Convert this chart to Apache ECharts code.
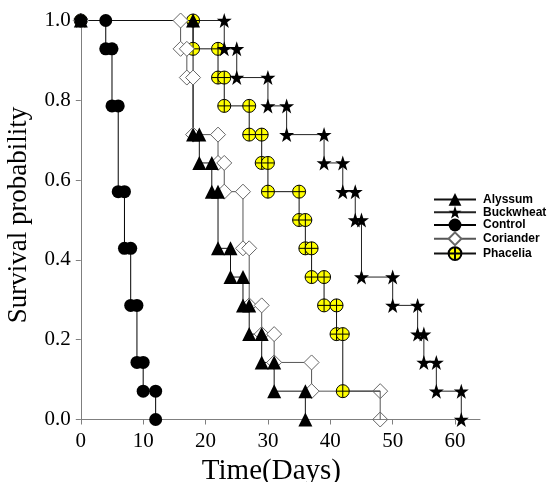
<!DOCTYPE html>
<html>
<head>
<meta charset="utf-8">
<script src="https://cdn.jsdelivr.net/npm/echarts@6/dist/echarts.min.js"></script>
<style>
html,body{margin:0;padding:0;background:#fff;}
#c{width:559px;height:482px;}
</style>
</head>
<body>
<div id="c"></div>
<script>
// Kaplan-Meier event times (days) and survival after each event
const alyssumTimes = [18, 19, 21, 22, 24, 26, 27, 29, 31, 36];
const alyssumSurv  = [0.714, 0.643, 0.571, 0.429, 0.357, 0.286, 0.214, 0.143, 0.071, 0];
const buckwheatTimes = [23, 25, 30, 33, 39, 42, 44, 45, 50, 54, 55, 57, 61];
const buckwheatSurv  = [0.929, 0.857, 0.786, 0.714, 0.643, 0.571, 0.5, 0.357, 0.286, 0.214, 0.143, 0.071, 0];
const controlTimes = [4, 5, 6, 7, 8, 9, 10, 12];
const controlSurv  = [0.929, 0.786, 0.571, 0.429, 0.286, 0.143, 0.071, 0];
const corianderTimes = [16, 17, 18, 22, 23, 26, 27, 29, 31, 37, 48];
const corianderSurv  = [0.929, 0.857, 0.714, 0.643, 0.571, 0.429, 0.286, 0.214, 0.143, 0.071, 0];
const corianderOpenAt = [48];
const phaceliaTimes = [18, 22, 23, 27, 29, 30, 35, 36, 37, 39, 41, 42];
const phaceliaSurv  = [0.929, 0.857, 0.786, 0.714, 0.643, 0.571, 0.5, 0.429, 0.357, 0.286, 0.214, 0.071];
const phaceliaCensorAt = 48;
const xTickValues = [0, 10, 20, 30, 40, 50, 60];
const yTickValues = [0, 0.2, 0.4, 0.6, 0.8, 1.0];
const legendNames = ['Alyssum', 'Buckwheat', 'Control', 'Coriander', 'Phacelia'];

function steps(times, surv) {
  const pts = [[0, 1]];
  let prev = 1;
  for (let i = 0; i < times.length; i++) {
    pts.push([times[i], prev]);
    pts.push([times[i], surv[i]]);
    prev = surv[i];
  }
  return pts;
}

const starPath = 'path://M50,0L61.8,35.1L98.1,35.1L68.8,56.8L79.4,91L50,70L20.6,91L31.2,56.8L1.9,35.1L38.2,35.1Z';
const crossCirclePath = 'path://M10,0A10,10,0,1,1,10,20A10,10,0,1,1,10,0ZM10,0L10,20M0,10L20,10';

const corData = steps(corianderTimes, corianderSurv).map(p =>
  corianderOpenAt.indexOf(p[0]) >= 0 ? {value: p, itemStyle: {color: 'rgba(255,255,255,0)'}} : {value: p});
const phaPts = steps(phaceliaTimes, phaceliaSurv);
phaPts.push([phaceliaCensorAt, phaceliaSurv[phaceliaSurv.length - 1]]);
const phaData = phaPts.map((p, i) => i === phaPts.length - 1 ? {value: p, symbol: 'none'} : {value: p});

const common = {type: 'line', clip: false, showAllSymbol: true, animation: false, silent: true};

const chart = echarts.init(document.getElementById('c'), null, {renderer: 'canvas'});
chart.setOption({
  animation: false,
  backgroundColor: '#fff',
  grid: {left: 80.8, top: 20.5, right: 79, bottom: 62.5, containLabel: false, outerBoundsMode: 'none'},
  legend: {
    data: legendNames,
    orient: 'vertical',
    left: 428, top: 188,
    itemWidth: 42, itemHeight: 16, itemGap: 0,
    textStyle: {fontFamily: 'Liberation Sans', fontWeight: 'bold', fontSize: 12, color: '#000', padding: [0, 0, 0, 2]},
    selectedMode: false
  },
  xAxis: {
    type: 'value', min: 0, max: 64, interval: 10,
    name: 'Time(Days)', nameLocation: 'middle', nameGap: 36,
    nameTextStyle: {fontFamily: 'Liberation Serif', fontSize: 29, color: '#000', padding: [0, 18, 0, 0]},
    axisLine: {lineStyle: {color: '#7f7f7f', width: 1}},
    axisTick: {show: true, length: 5, lineStyle: {color: '#7f7f7f'}, customValues: xTickValues},
    axisLabel: {fontFamily: 'Liberation Serif', fontSize: 21, color: '#000', margin: 11, customValues: xTickValues},
    splitLine: {show: false}
  },
  yAxis: {
    type: 'value', min: 0, max: 1, interval: 0.2,
    name: 'Survival probability', nameLocation: 'middle', nameGap: 48, nameRotate: 90,
    nameTextStyle: {fontFamily: 'Liberation Serif', fontSize: 27, color: '#000', padding: [0, 0, 0, 10]},
    axisLine: {show: true, lineStyle: {color: '#7f7f7f', width: 1}},
    axisTick: {show: true, length: 5, lineStyle: {color: '#7f7f7f'}, customValues: yTickValues},
    axisLabel: {fontFamily: 'Liberation Serif', fontSize: 21, color: '#000', margin: 10,
      formatter: v => v.toFixed(1), customValues: yTickValues},
    splitLine: {show: false}
  },
  series: [
    Object.assign({}, common, {
      name: 'Phacelia', data: phaData,
      symbol: crossCirclePath, symbolSize: 13,
      itemStyle: {color: '#ffff00', borderColor: '#000', borderWidth: 1},
      lineStyle: {color: '#111', width: 1}
    }),
    Object.assign({}, common, {
      name: 'Coriander', data: corData,
      symbol: 'diamond', symbolSize: 15,
      itemStyle: {color: '#fff', borderColor: '#666', borderWidth: 1},
      lineStyle: {color: '#555', width: 1}
    }),
    Object.assign({}, common, {
      name: 'Control', data: steps(controlTimes, controlSurv),
      symbol: 'circle', symbolSize: 13,
      itemStyle: {color: '#000'},
      lineStyle: {color: '#000', width: 1}
    }),
    Object.assign({}, common, {
      name: 'Buckwheat', data: steps(buckwheatTimes, buckwheatSurv),
      symbol: starPath, symbolSize: 15,
      itemStyle: {color: '#000'},
      lineStyle: {color: '#222', width: 1}
    }),
    Object.assign({}, common, {
      name: 'Alyssum', data: steps(alyssumTimes, alyssumSurv),
      symbol: 'triangle', symbolSize: 14,
      itemStyle: {color: '#000'},
      lineStyle: {color: '#111', width: 1}
    })
  ]
});
</script>
</body>
</html>
